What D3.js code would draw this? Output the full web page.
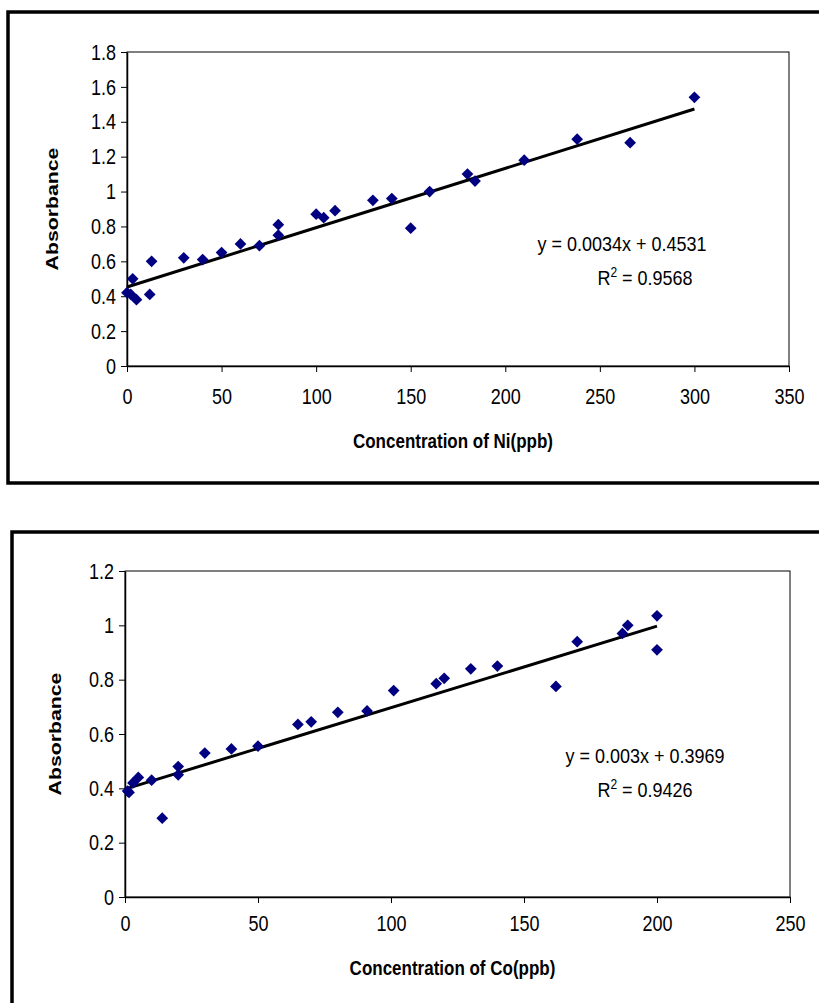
<!DOCTYPE html>
<html>
<head>
<meta charset="utf-8">
<script src="https://cdn.jsdelivr.net/npm/d3@7"></script>
<style>
  body { margin: 0; background: #fff; }
  text { font-family: "Liberation Sans", Arial, sans-serif; }
</style>
</head>
<body>
<svg id="chart" width="819" height="1003"></svg>
<script>
// Ni calibration data
var niConc = [0, 2, 3, 5, 12, 13, 30, 40, 50, 60, 70, 80, 80, 100, 104, 110, 130, 140, 150, 160, 180, 184, 210, 238, 266, 300];
var niAbs = [0.42, 0.41, 0.5, 0.38, 0.41, 0.6, 0.62, 0.61, 0.65, 0.70, 0.69, 0.81, 0.75, 0.87, 0.85, 0.89, 0.95, 0.96, 0.79, 1.0, 1.10, 1.06, 1.18, 1.30, 1.28, 1.54];
var niFit = [0.0034, 0.4531];
var niXTicks = [0, 50, 100, 150, 200, 250, 300, 350];
var niYTicks = [0, 0.2, 0.4, 0.6, 0.8, 1, 1.2, 1.4, 1.6, 1.8];

// Co calibration data
var coConc = [1, 1.5, 3, 5, 10, 14, 20, 20, 30, 40, 50, 65, 70, 80, 91, 101, 117, 120, 130, 140, 162, 170, 187, 189, 200, 200];
var coAbs = [0.39, 0.385, 0.42, 0.44, 0.43, 0.29, 0.48, 0.45, 0.53, 0.545, 0.555, 0.635, 0.645, 0.68, 0.685, 0.76, 0.785, 0.805, 0.84, 0.85, 0.775, 0.94, 0.97, 1.0, 1.035, 0.91];
var coFit = [0.003, 0.3969];
var coXTicks = [0, 50, 100, 150, 200, 250];
var coYTicks = [0, 0.2, 0.4, 0.6, 0.8, 1, 1.2];

var svg = d3.select("#chart");

// the source picture is stretched vertically, so the text is too
function stretch(sel, sx, sy) {
    sel.style("transform-box", "fill-box")
        .style("transform-origin", "center")
        .style("transform", "scale(" + sx + "," + sy + ")");
}

function drawChart(cfg) {
    var g = svg.append("g");

    // outer frame of the chart object
    g.append("rect")
        .attr("x", cfg.frame[0]).attr("y", cfg.frame[1])
        .attr("width", cfg.frame[2]).attr("height", cfg.frame[3])
        .style("fill", "none").style("stroke", "#000").style("stroke-width", 3.5);

    var x = d3.scaleLinear().domain(d3.extent(cfg.xTicks)).range([cfg.left, cfg.right]);
    var y = d3.scaleLinear().domain(d3.extent(cfg.yTicks)).range([cfg.bottom, cfg.top]);

    // plot area box
    g.append("rect")
        .attr("x", cfg.left).attr("y", cfg.top)
        .attr("width", cfg.right - cfg.left).attr("height", cfg.bottom - cfg.top)
        .style("fill", "none").style("stroke", "#000").style("stroke-width", 1);

    var xAxis = g.append("g")
        .attr("transform", "translate(0," + cfg.bottom + ")")
        .call(d3.axisBottom(x).tickValues(cfg.xTicks).tickSize(6).tickSizeOuter(0).tickPadding(cfg.xPad));
    var yAxis = g.append("g")
        .attr("transform", "translate(" + cfg.left + ",0)")
        .call(d3.axisLeft(y).tickValues(cfg.yTicks).tickSize(6).tickSizeOuter(0).tickPadding(5)
            .tickFormat(function (d) { return String(+d.toFixed(1)); }));

    [xAxis, yAxis].forEach(function (a) {
        a.select(".domain").style("stroke", "#000").style("stroke-width", 1.5);
        a.selectAll(".tick line").style("stroke", "#000");
        a.selectAll(".tick text")
            .style("font-size", "18px")
            .style("fill", "#000")
            .style("font-family", "'Liberation Sans', Arial, sans-serif")
            .call(stretch, 1, 1.22);
    });

    // trend line from fitted coefficients
    var xMax = d3.max(cfg.xs);
    var line = d3.line()
        .x(function (d) { return x(d); })
        .y(function (d) { return y(cfg.fit[0] * d + cfg.fit[1]); });
    g.append("path")
        .attr("d", line([0, xMax]))
        .style("fill", "none").style("stroke", "#000").style("stroke-width", 3);

    // diamond markers
    var sym = d3.symbol().type(d3.symbolDiamond2).size(88);
    g.selectAll(".pt")
        .data(cfg.xs.map(function (v, i) { return [v, cfg.ys[i]]; }))
        .enter().append("path")
        .attr("class", "pt")
        .attr("d", sym)
        .attr("transform", function (d) { return "translate(" + x(d[0]) + "," + y(d[1]) + ")"; })
        .style("fill", "#000080");

    // axis titles
    g.append("text")
        .attr("x", (cfg.left + cfg.right) / 2 - 5).attr("y", cfg.bottom + cfg.titleDy)
        .attr("text-anchor", "middle")
        .style("font-size", "17px").style("font-weight", "bold")
        .text(cfg.xTitle)
        .call(stretch, 1, 1.2);
    g.append("g")
        .attr("transform", "translate(" + cfg.yTitleX + "," + (cfg.top + cfg.bottom) / 2 + ") rotate(-90)")
        .append("text")
        .attr("text-anchor", "middle")
        .style("font-size", "17px").style("font-weight", "bold")
        .text("Absorbance")
        .call(stretch, 1.25, 1);

    // equation label
    g.append("text")
        .attr("x", cfg.eqX).attr("y", cfg.eqY)
        .attr("text-anchor", "middle")
        .style("font-size", "18px")
        .text(cfg.eqText)
        .call(stretch, 1, 1.15);
    var r2 = g.append("text")
        .attr("x", cfg.eqX + cfg.r2dx).attr("y", cfg.eqY + 34)
        .attr("text-anchor", "middle")
        .style("font-size", "18px");
    r2.append("tspan").text("R");
    r2.append("tspan").attr("dy", -7).style("font-size", "12px").text("2");
    r2.append("tspan").attr("dy", 7).text(" = " + cfg.r2);
    r2.call(stretch, 1, 1.15);
}

drawChart({
    frame: [8, 12, 860, 471],
    left: 127, right: 789, top: 52, bottom: 366,
    xTicks: niXTicks, yTicks: niYTicks,
    xs: niConc, ys: niAbs, fit: niFit,
    xPad: 18, titleDy: 81,
    xTitle: "Concentration of Ni(ppb)", yTitleX: 58,
    eqText: "y = 0.0034x + 0.4531", eqX: 622, eqY: 250, r2dx: 23, r2: "0.9568"
});

drawChart({
    frame: [12, 532, 860, 520],
    left: 125, right: 790, top: 571, bottom: 897,
    xTicks: coXTicks, yTicks: coYTicks,
    xs: coConc, ys: coAbs, fit: coFit,
    xPad: 14, titleDy: 77,
    xTitle: "Concentration of Co(ppb)", yTitleX: 61,
    eqText: "y = 0.003x + 0.3969", eqX: 645, eqY: 762, r2dx: 0, r2: "0.9426"
});
</script>
</body>
</html>
